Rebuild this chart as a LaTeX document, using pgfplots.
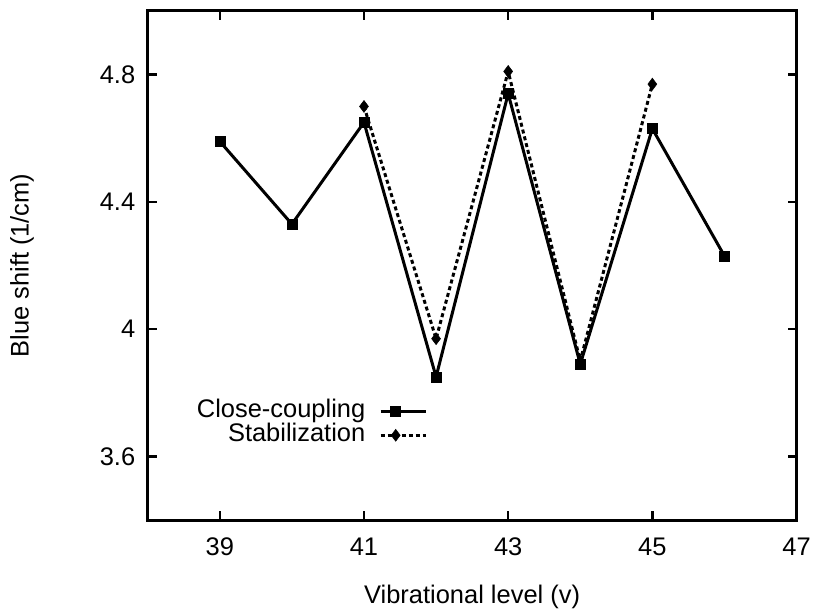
\documentclass[border=0pt]{standalone}
\usepackage{pgfplots}
\pgfplotsset{compat=1.18}
\usepackage{fontspec}
\setmainfont{Liberation Sans}
\begin{document}
\begin{tikzpicture}[font=\fontsize{25.5bp}{30bp}\selectfont]
\begin{axis}[
  name=ax,
  scale only axis,
  width=650bp, height=510bp,
  xmin=38, xmax=47, ymin=3.4, ymax=5.0,
  xtick={39,41,43,45,47},
  ytick={3.6,4.0,4.4,4.8},
  yticklabels={3.6,4,4.4,4.8},
  tick align=inside,
  major tick length=9bp,
  tick style={line width=2.5bp, black},
  axis line style={line width=3bp},
  /pgf/number format/assume math mode=true,
  tick label style={font=\fontsize{25.5bp}{30bp}\selectfont},
  label style={font=\fontsize{25.5bp}{30bp}\selectfont},
  xticklabel style={yshift=-14bp},
  yticklabel style={xshift=-9bp},
  xlabel={Vibrational level (v)},
  ylabel={Blue shift (1/cm)},
  xlabel style={at={(axis description cs:0.5,0)},anchor=center,yshift=-77bp},
  ylabel style={at={(axis description cs:0,0.5)},anchor=center,yshift=126bp},
  legend plot pos=right,
  legend cell align=right,
  legend style={draw=none, fill=none, at={(0.431,0.19)}, anchor=east,
    inner sep=0pt, row sep=1bp, column sep=14bp,
    font=\fontsize{25.5bp}{30bp}\selectfont,
    nodes={inner sep=0pt, text height=18bp, text depth=5bp}},
  legend image code/.code={\draw[mark repeat=2,mark phase=2,#1] plot coordinates {(0bp,0bp) (15bp,0bp) (45bp,0bp)};},
]
\addplot[black, line width=3bp, mark=square*, mark size=5bp, mark options={solid, line width=0.5bp}]
  coordinates {(39,4.59) (40,4.33) (41,4.65) (42,3.85) (43,4.74) (44,3.89) (45,4.63) (46,4.23)};
\addlegendentry{Close-coupling}
\addplot[black, line width=3bp, dash pattern=on 4bp off 3bp, mark=diamond*, mark size=6bp, mark options={solid, line width=0.5bp}]
  coordinates {(41,4.70) (42,3.97) (43,4.81) (44,3.90) (45,4.77)};
\addlegendentry{Stabilization}
\end{axis}
\path ([xshift=-148bp,yshift=-91bp]ax.south west) rectangle ([xshift=16bp,yshift=11bp]ax.north east);
\end{tikzpicture}
\end{document}
